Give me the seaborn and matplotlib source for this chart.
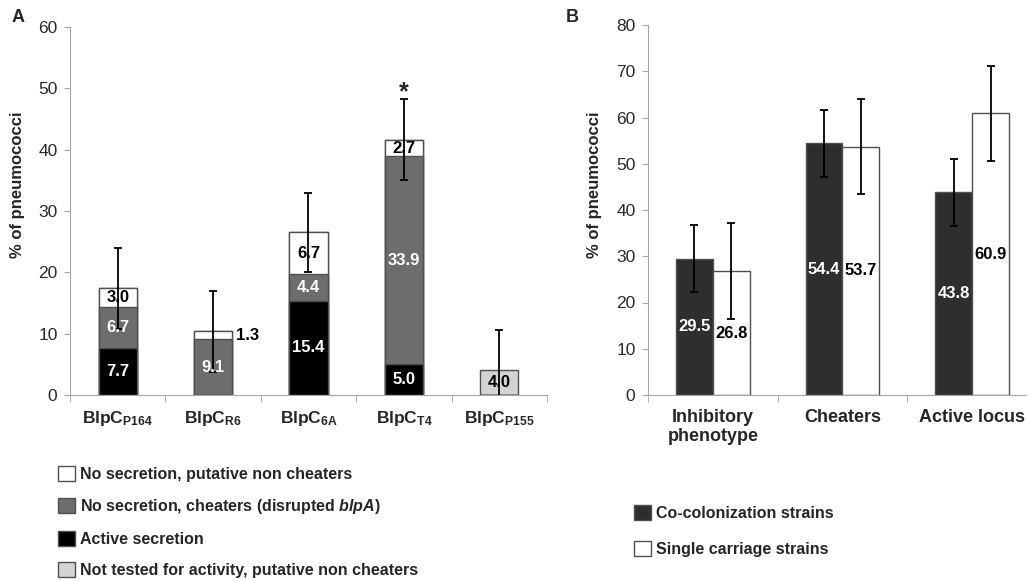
import numpy as np
import pandas as pd
import matplotlib.pyplot as plt
import seaborn as sns
from matplotlib.patches import Patch

# Panel A: BlpC pherotypes, stacked segments (% of pneumococci)
strains = ["P164", "R6", "6A", "T4", "P155"]
active = [7.7, 0.0, 15.4, 5.0, 0.0]
cheaters = [6.7, 9.1, 4.4, 33.9, 0.0]
non_cheaters = [3.0, 1.3, 6.7, 2.7, 0.0]
not_tested = [0.0, 0.0, 0.0, 0.0, 4.0]
err_a = [6.6, 6.6, 6.5, 6.6, 6.6]

# Panel B: co-colonization vs single carriage
groups = ["Inhibitory\nphenotype", "Cheaters", "Active locus"]
cocol = [29.5, 54.4, 43.8]
single = [26.8, 53.7, 60.9]
cocol_err = [7.3, 7.3, 7.3]
single_err = [10.3, 10.3, 10.3]

sns.set_style("white")
plt.rcParams['font.family'] = ['Liberation Sans', 'DejaVu Sans']
plt.rcParams['mathtext.fontset'] = 'custom'
plt.rcParams['mathtext.rm'] = 'Liberation Sans'
plt.rcParams['mathtext.bf'] = 'Liberation Sans:bold'
plt.rcParams['mathtext.it'] = 'Liberation Sans:italic'
plt.rcParams['mathtext.bfit'] = 'Liberation Sans:bold:italic'

BLACK = "#000000"
GREY = "#6d6d6d"
LIGHT = "#d3d3d3"
DARK = "#2e2e2e"
EDGE = "#505050"
SPINE = "#a6a6a6"

fig = plt.figure(figsize=(10.27, 5.81), dpi=100)
ax_a = fig.add_axes([70 / 1027, 1 - 395 / 581, 477 / 1027, 368 / 581])
ax_b = fig.add_axes([648 / 1027, 1 - 395 / 581, 389 / 1027, 370 / 581])

# ---- Panel A (stacked by overdrawing cumulative totals)
c1 = np.array(active)
c2 = c1 + np.array(cheaters)
c3 = c2 + np.array(non_cheaters)
c4 = c3 + np.array(not_tested)
for cum, col in [(c4, LIGHT), (c3, "white"), (c2, GREY), (c1, BLACK)]:
    sns.barplot(x=strains, y=cum, order=strains, color=col, saturation=1,
                width=0.4, edgecolor=EDGE, linewidth=1, ax=ax_a)

ax_a.errorbar(np.arange(len(strains)), c4, yerr=err_a, fmt="none",
              ecolor="black", elinewidth=1.3, capsize=3, capthick=1.3)

segments = [(active, np.zeros(5), "white"), (cheaters, c1, "white"),
            (non_cheaters, c2, "black"), (not_tested, c3, "black")]
for vals, bots, tcol in segments:
    for i, (v, b) in enumerate(zip(vals, bots)):
        if v <= 0:
            continue
        if v < 2:
            ax_a.text(i + 0.24, b + v / 2, f"{v:.1f}", ha="left", va="center",
                      fontsize=12, fontweight="bold", color="black")
        else:
            ax_a.text(i, b + v / 2, f"{v:.1f}", ha="center", va="center",
                      fontsize=12, fontweight="bold", color=tcol)
ax_a.text(3, 49.3, "*", ha="center", va="center", fontsize=18, fontweight="bold")

ax_a.set_ylim(0, 60)
ax_a.set_xlim(-0.5, 4.5)
ax_a.set_yticks(range(0, 61, 10))
ax_a.set_xticks(range(len(strains)))
ax_a.set_xticklabels([r"BlpC$_{\mathbf{%s}}$" % s for s in strains],
                     fontsize=12.5, fontweight="bold")
ax_a.set_ylabel("% of pneumococci", fontsize=12, fontweight="bold")
ax_a.yaxis.set_label_coords(-0.094, 0.571)

# ---- Panel B
df_b = pd.DataFrame({
    "group": groups * 2,
    "pct": cocol + single,
    "strain": ["Co-colonization strains"] * 3 + ["Single carriage strains"] * 3,
})
sns.barplot(data=df_b, x="group", y="pct", hue="strain", order=groups,
            palette=[DARK, "white"], saturation=1, width=0.57,
            edgecolor=EDGE, linewidth=1, legend=False, ax=ax_b)
off = 0.57 / 4
xb = np.arange(len(groups))
ax_b.errorbar(xb - off, cocol, yerr=cocol_err, fmt="none", ecolor="black",
              elinewidth=1.3, capsize=3, capthick=1.3)
ax_b.errorbar(xb + off, single, yerr=single_err, fmt="none", ecolor="black",
              elinewidth=1.3, capsize=3, capthick=1.3)
for i in range(len(groups)):
    ax_b.text(i - off, cocol[i] / 2, f"{cocol[i]:.1f}", ha="center", va="center",
              fontsize=12, fontweight="bold", color="white")
    ax_b.text(i + off, single[i] / 2, f"{single[i]:.1f}", ha="center", va="center",
              fontsize=12, fontweight="bold", color="black")

ax_b.set_ylim(0, 80)
ax_b.set_xlim(-0.5, 2.5)
ax_b.set_yticks(range(0, 81, 10))
ax_b.set_xticks(xb)
ax_b.set_xticklabels(groups, fontsize=13, fontweight="bold")
ax_b.set_xlabel("")
ax_b.set_ylabel("% of pneumococci", fontsize=12, fontweight="bold")
ax_b.yaxis.set_label_coords(-0.118, 0.568)

for ax, n in [(ax_a, len(strains)), (ax_b, len(groups))]:
    sns.despine(ax=ax)
    for s in ["left", "bottom"]:
        ax.spines[s].set_color(SPINE)
    ax.set_xticks(np.arange(-0.5, n, 1.0), minor=True)
    ax.tick_params(axis="x", which="major", length=0, pad=10)
    ax.tick_params(axis="x", which="minor", length=5, color=SPINE, bottom=True)
    ax.tick_params(axis="y", length=4, color=SPINE, left=True, labelsize=12.5,
                   labelcolor="#2a2a2a", pad=5)

fig.text(12 / 1027, 1 - 18 / 581, "A", fontsize=13, fontweight="bold", va="center")
fig.text(566 / 1027, 1 - 18 / 581, "B", fontsize=13, fontweight="bold", va="center")

# ---- legends
handles_a = [
    Patch(facecolor="white", edgecolor=EDGE, label="No secretion, putative non cheaters"),
    Patch(facecolor=GREY, edgecolor=EDGE, label=r"No secretion, cheaters (disrupted $\mathbfit{blpA}$)"),
    Patch(facecolor=BLACK, edgecolor=EDGE, label="Active secretion"),
    Patch(facecolor=LIGHT, edgecolor=EDGE, label="Not tested for activity, putative non cheaters"),
]
fig.legend(handles=handles_a, loc="upper left", bbox_to_anchor=(58 / 1027, 1 - 466 / 581),
           frameon=False, borderpad=0, borderaxespad=0, handlelength=1.05,
           handleheight=1.05, handletextpad=0.3, labelspacing=0.95,
           prop={"size": 11.5, "weight": "bold"})

handles_b = [
    Patch(facecolor=DARK, edgecolor=EDGE, label="Co-colonization strains"),
    Patch(facecolor="white", edgecolor=EDGE, label="Single carriage strains"),
]
fig.legend(handles=handles_b, loc="upper left", bbox_to_anchor=(634 / 1027, 1 - 505 / 581),
           frameon=False, borderpad=0, borderaxespad=0, handlelength=1.05,
           handleheight=1.05, handletextpad=0.3, labelspacing=1.25,
           prop={"size": 11.5, "weight": "bold"})

fig.savefig("out.png", dpi=100)
